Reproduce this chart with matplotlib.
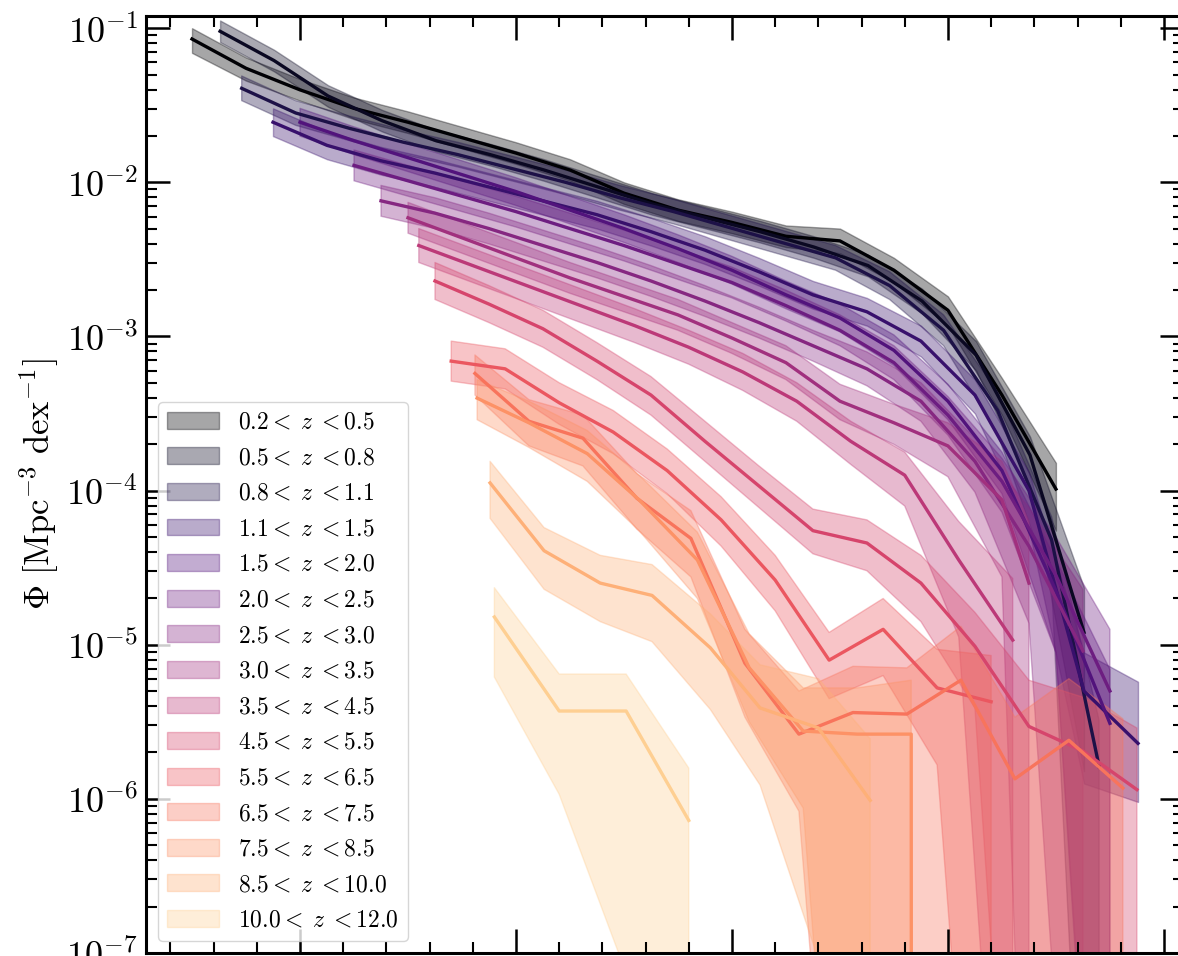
import numpy as np
import matplotlib.pyplot as plt
from matplotlib.ticker import MultipleLocator, LogLocator, NullFormatter

plt.rcParams['mathtext.fontset'] = 'cm'
plt.rcParams['font.family'] = 'serif'
plt.rcParams['font.serif'] = ['cmr10', 'DejaVu Serif']
plt.rcParams['axes.formatter.use_mathtext'] = True

z_lo = [0.2, 0.5, 0.8, 1.1, 1.5, 2.0, 2.5, 3.0, 3.5, 4.5, 5.5, 6.5, 7.5, 8.5, 10.0]
z_hi = [0.5, 0.8, 1.1, 1.5, 2.0, 2.5, 3.0, 3.5, 4.5, 5.5, 6.5, 7.5, 8.5, 10.0, 12.0]

# log10 stellar mass of each bin, per redshift slice
masses = [
    [6.5, 6.75, 7.0, 7.25, 7.5, 7.75, 8.0, 8.25, 8.5, 8.75, 9.0, 9.25, 9.5, 9.75, 10.0, 10.25, 10.5],
    [6.63, 6.88, 7.13, 7.38, 7.63, 7.88, 8.13, 8.38, 8.63, 8.88, 9.13, 9.38, 9.63, 9.88, 10.13, 10.38, 10.63],
    [6.73, 6.98, 7.23, 7.48, 7.73, 7.98, 8.23, 8.48, 8.73, 8.98, 9.23, 9.48, 9.73, 9.98, 10.23, 10.48, 10.7],
    [6.875, 7.125, 7.375, 7.625, 7.875, 8.125, 8.375, 8.625, 8.875, 9.125, 9.375, 9.625, 9.875, 10.125, 10.375, 10.63, 10.88],
    [7.0, 7.25, 7.5, 7.75, 8.0, 8.25, 8.5, 8.75, 9.0, 9.25, 9.5, 9.75, 10.0, 10.25, 10.5, 10.75],
    [7.25, 7.5, 7.75, 8.0, 8.25, 8.5, 8.75, 9.0, 9.25, 9.5, 9.75, 10.0, 10.25, 10.5, 10.75],
    [7.375, 7.625, 7.875, 8.125, 8.375, 8.625, 8.875, 9.125, 9.375, 9.625, 9.875, 10.125, 10.375, 10.625],
    [7.5, 7.75, 8.0, 8.25, 8.5, 8.75, 9.0, 9.25, 9.5, 9.75, 10.0, 10.25, 10.375],
    [7.55, 7.8, 8.05, 8.3, 8.55, 8.8, 9.05, 9.3, 9.55, 9.8, 10.05, 10.3],
    [7.625, 7.875, 8.125, 8.375, 8.625, 8.875, 9.125, 9.375, 9.625, 9.875, 10.125, 10.375, 10.625, 10.875],
    [7.7, 7.95, 8.2, 8.45, 8.7, 8.95, 9.2, 9.45, 9.7, 9.95, 10.2],
    [7.81, 8.06, 8.31, 8.56, 8.81, 9.06, 9.31, 9.56, 9.81, 10.06, 10.31, 10.56, 10.81],
    [7.82, 8.06, 8.33, 8.57, 8.84, 9.08, 9.33, 9.58, 9.83, 10.08],
    [7.88, 8.13, 8.39, 8.63, 8.9, 9.13, 9.4, 9.64],
    [7.9, 8.2, 8.51, 8.8],
]

# log10 Phi [Mpc^-3 dex^-1]; -inf marks an empty bin
log_phi = [
    [-1.07, -1.26, -1.40, -1.52, -1.61, -1.71, -1.81, -1.92, -2.07, -2.18, -2.26, -2.35, -2.38, -2.57, -2.83, -3.38, -3.99],
    [-1.02, -1.21, -1.44, -1.60, -1.73, -1.82, -1.92, -2.03, -2.14, -2.23, -2.32, -2.42, -2.54, -2.77, -3.12, -3.77, -4.92],
    [-1.39, -1.55, -1.65, -1.74, -1.82, -1.91, -2.00, -2.10, -2.19, -2.29, -2.39, -2.49, -2.67, -2.96, -3.48, -4.32, -5.79],
    [-1.61, -1.76, -1.86, -1.94, -2.03, -2.12, -2.21, -2.32, -2.44, -2.58, -2.73, -2.84, -3.03, -3.38, -4.00, -5.30, -5.64],
    [-1.61, -1.73, -1.84, -1.95, -2.06, -2.18, -2.30, -2.43, -2.57, -2.73, -2.88, -3.09, -3.42, -3.87, -4.65, -5.51],
    [-1.89, -1.99, -2.09, -2.19, -2.30, -2.41, -2.53, -2.65, -2.80, -2.96, -3.17, -3.51, -3.94, -4.55, -5.30],
    [-2.12, -2.20, -2.30, -2.41, -2.52, -2.64, -2.77, -2.91, -3.06, -3.21, -3.42, -3.81, -4.36, -5.04],
    [-2.23, -2.36, -2.49, -2.62, -2.74, -2.86, -3.01, -3.17, -3.42, -3.56, -3.71, -4.06, -4.60],
    [-2.41, -2.54, -2.67, -2.80, -2.93, -3.07, -3.23, -3.42, -3.68, -3.90, -4.45, -4.97],
    [-2.64, -2.79, -2.95, -3.16, -3.38, -3.68, -3.97, -4.26, -4.34, -4.60, -5.01, -5.53, -5.69, -5.94],
    [-3.16, -3.21, -3.43, -3.62, -3.87, -4.19, -4.58, -5.10, -4.90, -5.28, -5.37],
    [-3.24, -3.55, -3.66, -4.05, -4.31, -5.12, -5.58, -5.44, -5.45, -5.23, -5.87, -5.62, -5.93],
    [-3.40, -3.56, -3.76, -4.06, -4.45, -5.15, -5.56, -5.58, -5.58, -np.inf],
    [-3.95, -4.39, -4.60, -4.68, -5.02, -5.41, -5.54, -6.01],
    [-4.82, -5.43, -5.43, -6.14],
]

# upper / lower width of the shaded band in dex (5 = band runs off the bottom)
err_up = [
    [0.07, 0.07, 0.07, 0.07, 0.07, 0.07, 0.07, 0.07, 0.07, 0.07, 0.07, 0.07, 0.08, 0.08, 0.09, 0.11, 0.17],
    [0.07, 0.07, 0.07, 0.07, 0.07, 0.07, 0.07, 0.07, 0.07, 0.07, 0.07, 0.07, 0.07, 0.08, 0.09, 0.12, 0.29],
    [0.08, 0.08, 0.08, 0.08, 0.08, 0.08, 0.08, 0.08, 0.08, 0.08, 0.08, 0.08, 0.09, 0.10, 0.12, 0.15, 0.30],
    [0.09, 0.09, 0.09, 0.09, 0.09, 0.09, 0.09, 0.09, 0.09, 0.09, 0.09, 0.09, 0.10, 0.10, 0.12, 0.25, 0.40],
    [0.09, 0.09, 0.09, 0.09, 0.09, 0.09, 0.09, 0.09, 0.09, 0.09, 0.09, 0.10, 0.11, 0.12, 0.20, 0.35],
    [0.10, 0.10, 0.10, 0.10, 0.10, 0.10, 0.10, 0.10, 0.10, 0.10, 0.11, 0.12, 0.15, 0.25, 0.40],
    [0.10, 0.10, 0.10, 0.10, 0.10, 0.10, 0.10, 0.10, 0.10, 0.11, 0.12, 0.15, 0.25, 0.40],
    [0.10, 0.10, 0.10, 0.10, 0.10, 0.10, 0.10, 0.11, 0.11, 0.12, 0.15, 0.25, 0.40],
    [0.11, 0.11, 0.11, 0.11, 0.11, 0.11, 0.12, 0.12, 0.13, 0.15, 0.25, 0.40],
    [0.12, 0.12, 0.12, 0.12, 0.12, 0.13, 0.13, 0.14, 0.15, 0.18, 0.22, 0.30, 0.35, 0.40],
    [0.13, 0.13, 0.13, 0.14, 0.14, 0.15, 0.16, 0.18, 0.20, 0.25, 0.30],
    [0.12, 0.14, 0.15, 0.16, 0.18, 0.22, 0.28, 0.30, 0.30, 0.35, 0.40, 0.40, 0.45],
    [0.12, 0.14, 0.15, 0.16, 0.18, 0.22, 0.28, 0.30, 0.35, 0.40],
    [0.14, 0.15, 0.18, 0.20, 0.22, 0.28, 0.32, 0.40],
    [0.19, 0.24, 0.24, 0.34],
]
err_dn = [
    [0.09, 0.08, 0.07, 0.07, 0.07, 0.07, 0.07, 0.07, 0.07, 0.07, 0.07, 0.07, 0.08, 0.08, 0.10, 0.13, 0.27],
    [0.07, 0.07, 0.07, 0.07, 0.07, 0.07, 0.07, 0.07, 0.07, 0.07, 0.07, 0.07, 0.07, 0.08, 0.10, 0.20, 0.90],
    [0.08, 0.08, 0.08, 0.08, 0.08, 0.08, 0.08, 0.08, 0.08, 0.08, 0.08, 0.08, 0.09, 0.10, 0.15, 0.30, 5.0],
    [0.09, 0.09, 0.09, 0.09, 0.09, 0.09, 0.09, 0.09, 0.09, 0.09, 0.09, 0.09, 0.10, 0.12, 0.25, 0.60, 0.38],
    [0.09, 0.09, 0.09, 0.09, 0.09, 0.09, 0.09, 0.09, 0.09, 0.09, 0.09, 0.10, 0.12, 0.15, 0.40, 5.0],
    [0.10, 0.10, 0.10, 0.10, 0.10, 0.10, 0.10, 0.10, 0.10, 0.10, 0.11, 0.13, 0.20, 0.50, 5.0],
    [0.10, 0.10, 0.10, 0.10, 0.10, 0.10, 0.10, 0.10, 0.10, 0.11, 0.13, 0.20, 0.50, 5.0],
    [0.10, 0.10, 0.10, 0.10, 0.10, 0.10, 0.10, 0.11, 0.12, 0.14, 0.20, 0.50, 5.0],
    [0.11, 0.11, 0.11, 0.11, 0.11, 0.11, 0.12, 0.13, 0.15, 0.20, 0.50, 5.0],
    [0.12, 0.12, 0.12, 0.12, 0.13, 0.13, 0.14, 0.15, 0.18, 0.25, 0.40, 5.0, 5.0, 5.0],
    [0.13, 0.13, 0.14, 0.14, 0.15, 0.17, 0.20, 0.25, 0.30, 0.50, 5.0],
    [0.14, 0.16, 0.18, 0.20, 0.25, 0.35, 0.50, 5.0, 5.0, 5.0, 5.0, 5.0, 5.0],
    [0.14, 0.16, 0.18, 0.20, 0.25, 0.35, 0.50, 5.0, 5.0, 0.0],
    [0.23, 0.25, 0.25, 0.30, 0.40, 0.50, 1.50, 5.0],
    [0.39, 0.54, 1.70, 5.0],
]

fig = plt.figure(figsize=(11.78, 9.56), dpi=100)
ax = fig.add_axes([146 / 1178, 3 / 956, 1038 / 1178, 937 / 956])

colors = plt.cm.magma(np.linspace(0, 0.9, len(z_lo)))
for i in range(len(z_lo)):
    m = np.array(masses[i])
    lp = np.array(log_phi[i])
    top = lp + np.array(err_up[i])
    bot = lp - np.array(err_dn[i])
    ax.fill_between(m, 10 ** bot, 10 ** top, color=colors[i], alpha=0.35, lw=1,
                    label=r'%.1f$<\;z\;<$%.1f' % (z_lo[i], z_hi[i]))
    ax.plot(m, 10 ** lp, color=colors[i], lw=2.4)

ax.set_yscale('log')
ax.set_ylim(1e-7, 0.12)
ax.set_xlim(6.287, 11.093)
ax.xaxis.set_major_locator(MultipleLocator(1))
ax.xaxis.set_minor_locator(MultipleLocator(0.2))
ax.yaxis.set_major_locator(LogLocator(base=10, numticks=20))
ax.yaxis.set_minor_locator(LogLocator(base=10, subs=np.arange(2, 10), numticks=20))
ax.yaxis.set_minor_formatter(NullFormatter())
ax.tick_params(which='both', direction='in', top=True, right=True, labelsize=26, pad=6,
               labelbottom=False)
ax.tick_params(which='major', length=17, width=1.8)
ax.tick_params(which='minor', length=8, width=1.5)
for s in ax.spines.values():
    s.set_linewidth(2.2)

ax.set_ylabel(r'$\Phi\ [\mathrm{Mpc}^{-3}\ \mathrm{dex}^{-1}]$', fontsize=25)

ax.legend(loc='lower left', fontsize=17, handlelength=2.2, handleheight=0.72,
          labelspacing=0.57, framealpha=0.8, borderaxespad=0.5)

plt.savefig('out.png', dpi=100)
